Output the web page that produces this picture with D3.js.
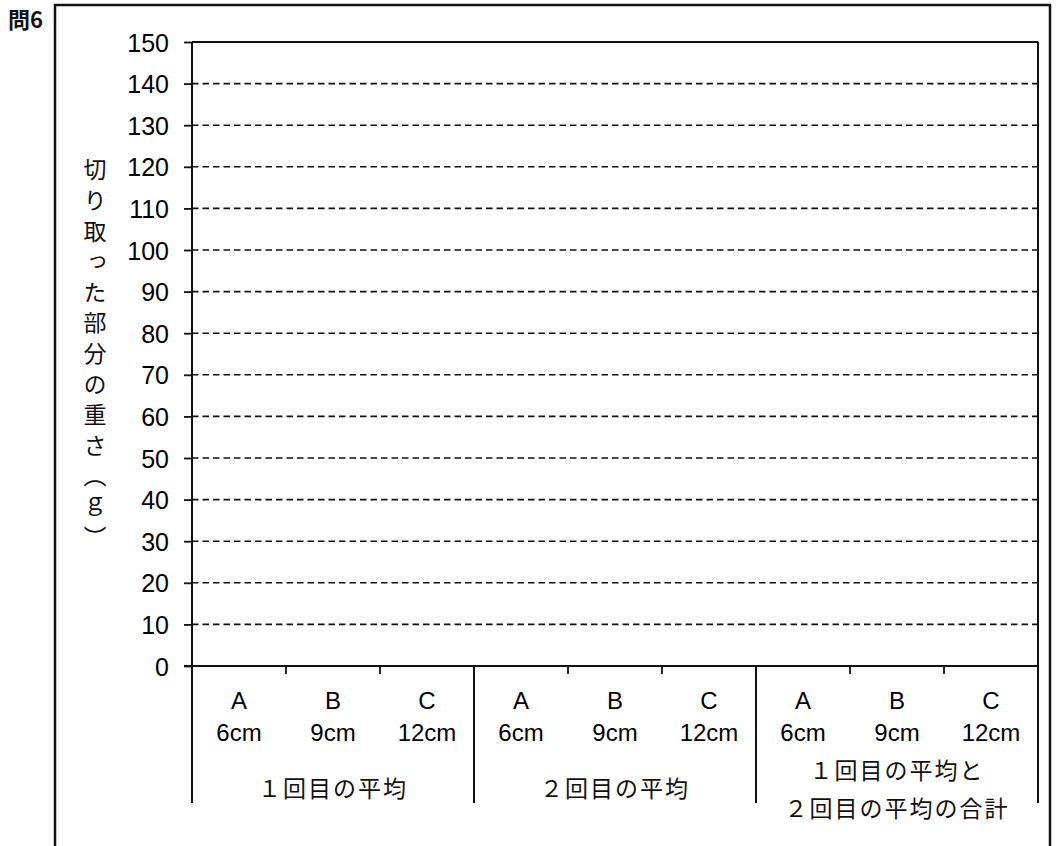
<!DOCTYPE html>
<html>
<head>
<meta charset="utf-8">
<script src="https://cdn.jsdelivr.net/npm/d3@7"></script>
<style>
  body { margin: 0; background: #fff; }
  svg { display: block; }
  .num { font-family: "Liberation Sans", Arial, sans-serif; fill: #000; }
  .jp { font-family: "Noto Sans CJK JP", sans-serif; fill: #111; }
</style>
</head>
<body>
<svg id="chart" width="1056" height="846"></svg>
<script>
// -----------------------------------------------------------------------------

var yTicks = [0, 10, 20, 30, 40, 50, 60, 70, 80, 90, 100, 110, 120, 130, 140, 150];
var letters = ['A', 'B', 'C'];
var lengths = ['6cm', '9cm', '12cm'];
var groupLabels = [
  ['１回目の平均'],
  ['２回目の平均'],
  ['１回目の平均と', '２回目の平均の合計']
];
var yLabel = '切り取った部分の重さ（ｇ）';
var title = '問6';

// one category per (group, letter)
var categories = [];
groupLabels.forEach(function (g, gi) {
  letters.forEach(function (l, li) {
    categories.push({ id: gi + '-' + li, group: gi, letter: l, length: lengths[li] });
  });
});

// -----------------------------------------------------------------------------

var svg = d3.select('#chart');

var plotLeft = 192, plotRight = 1038, plotTop = 42, plotBottom = 666, plotLower = 803;

var y = d3.scaleLinear().domain([0, 150]).range([plotBottom, plotTop]);
var x = d3.scaleBand()
  .domain(categories.map(function (d) { return d.id; }))
  .range([plotLeft, plotRight]);
var xg = d3.scaleBand()
  .domain(d3.range(groupLabels.length))
  .range([plotLeft, plotRight]);

// - - - - - - - - - - - - - - - - - - - - - - - - - - - - - - - - - - - - - - -
// outer frame (bottom edge runs off the page)

svg.append('rect')
  .attr('x', 55).attr('y', 5)
  .attr('width', 995).attr('height', 900)
  .attr('fill', 'none')
  .attr('stroke', '#111')
  .attr('stroke-width', 2.5);

svg.append('text')
  .attr('x', 8).attr('y', 28)
  .attr('font-family', '"Noto Sans CJK JP", sans-serif')
  .attr('font-weight', 'bold')
  .attr('font-size', 22)
  .attr('fill', '#111')
  .text(title);

// - - - - - - - - - - - - - - - - - - - - - - - - - - - - - - - - - - - - - - -
// grid lines

svg.append('g')
  .selectAll('line')
  .data(yTicks.filter(function (d) { return d > 0 && d < 150; }))
  .join('line')
  .attr('x1', plotLeft).attr('x2', plotRight)
  .attr('y1', function (d) { return y(d); })
  .attr('y2', function (d) { return y(d); })
  .attr('stroke', '#111')
  .attr('stroke-width', 1.6)
  .attr('stroke-dasharray', '6.5,4');

// y axis
var yAxis = d3.axisLeft(y).tickValues(yTicks).tickSize(8).tickPadding(15);
var gy = svg.append('g')
  .attr('transform', 'translate(' + plotLeft + ',0)')
  .call(yAxis);
gy.select('.domain').remove();
gy.selectAll('.tick line').attr('stroke', '#111').attr('stroke-width', 1.8);
gy.selectAll('.tick text')
  .attr('class', 'num')
  .attr('font-size', 25)
  .attr('dy', '0.36em');

// top line, baseline, left and right edges
svg.append('line')
  .attr('x1', plotLeft).attr('x2', plotRight)
  .attr('y1', y(150)).attr('y2', y(150))
  .attr('stroke', '#111').attr('stroke-width', 2);
svg.append('line')
  .attr('x1', plotLeft - 8).attr('x2', plotRight)
  .attr('y1', y(0)).attr('y2', y(0))
  .attr('stroke', '#111').attr('stroke-width', 2);
svg.append('line')
  .attr('x1', plotLeft).attr('x2', plotLeft)
  .attr('y1', plotTop).attr('y2', plotLower)
  .attr('stroke', '#111').attr('stroke-width', 2);
svg.append('line')
  .attr('x1', plotRight).attr('x2', plotRight)
  .attr('y1', plotTop).attr('y2', plotLower)
  .attr('stroke', '#111').attr('stroke-width', 2);

// - - - - - - - - - - - - - - - - - - - - - - - - - - - - - - - - - - - - - - -
// x axis: small ticks inside groups, long dividers between groups

svg.append('g')
  .selectAll('line')
  .data(categories.filter(function (d) { return d.letter !== 'A'; }))
  .join('line')
  .attr('x1', function (d) { return x(d.id); })
  .attr('x2', function (d) { return x(d.id); })
  .attr('y1', y(0)).attr('y2', y(0) + 8)
  .attr('stroke', '#111').attr('stroke-width', 1.8);

svg.append('g')
  .selectAll('line')
  .data(d3.range(1, groupLabels.length))
  .join('line')
  .attr('x1', function (d) { return xg(d); })
  .attr('x2', function (d) { return xg(d); })
  .attr('y1', y(0)).attr('y2', plotLower)
  .attr('stroke', '#111').attr('stroke-width', 2);

var cat = svg.append('g')
  .selectAll('g')
  .data(categories)
  .join('g')
  .attr('transform', function (d) {
    return 'translate(' + (x(d.id) + x.bandwidth() / 2) + ',0)';
  });

cat.append('text')
  .attr('class', 'num')
  .attr('text-anchor', 'middle')
  .attr('font-size', 24)
  .attr('y', 709)
  .text(function (d) { return d.letter; });

cat.append('text')
  .attr('class', 'num')
  .attr('text-anchor', 'middle')
  .attr('font-size', 24)
  .attr('y', 741)
  .text(function (d) { return d.length; });

// group labels
var grp = svg.append('g')
  .selectAll('text')
  .data(groupLabels)
  .join('text')
  .attr('class', 'jp')
  .attr('text-anchor', 'middle')
  .attr('font-size', 23)
  .attr('letter-spacing', 2)
  .attr('x', function (d, i) { return xg(i) + xg.bandwidth() / 2; })
  .attr('y', function (d) { return d.length > 1 ? 779 : 797; });

grp.selectAll('tspan')
  .data(function (d) { return d; })
  .join('tspan')
  .attr('x', function () { return d3.select(this.parentNode).attr('x'); })
  .attr('dy', function (d, i) { return i === 0 ? 0 : 38; })
  .text(function (d) { return d; });

// - - - - - - - - - - - - - - - - - - - - - - - - - - - - - - - - - - - - - - -
// vertical y label

svg.append('text')
  .attr('class', 'jp')
  .attr('x', 95).attr('y', 357)
  .attr('text-anchor', 'middle')
  .attr('font-size', 23)
  .attr('letter-spacing', 7.6)
  .style('writing-mode', 'vertical-rl')
  .text(yLabel);

// -----------------------------------------------------------------------------
</script>
</body>
</html>
